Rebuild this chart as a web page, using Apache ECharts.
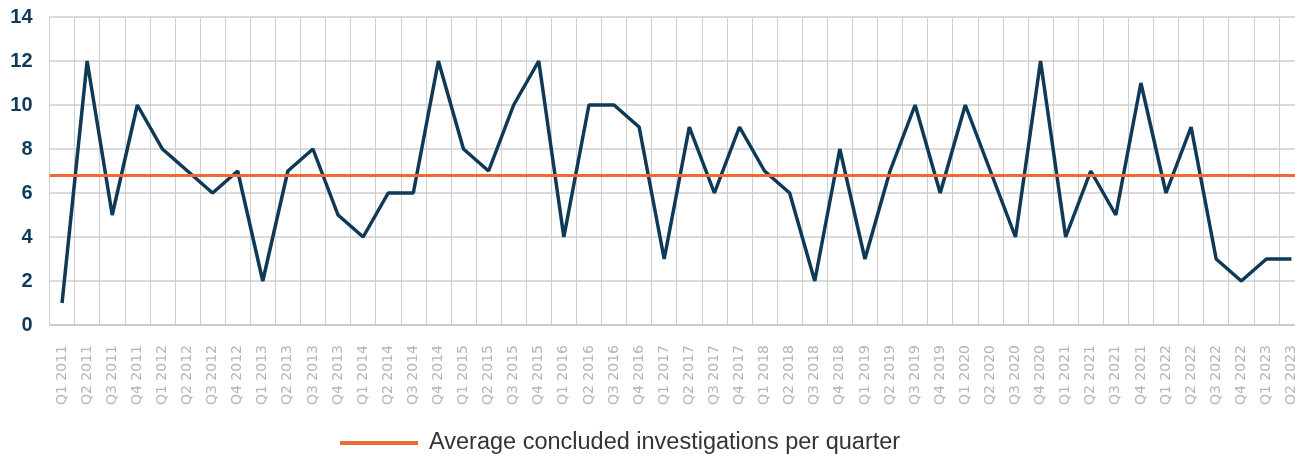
<!DOCTYPE html>
<html>
<head>
<meta charset="utf-8">
<script src="https://cdn.jsdelivr.net/npm/echarts@6/dist/echarts.min.js"></script>
<style>html,body{margin:0;padding:0;background:#fff;overflow:hidden;width:1295px;height:454px}#c{width:1304px;height:454px}</style>
</head>
<body>
<div id="c"></div>
<script>
const quarters = ["Q1 2011","Q2 2011","Q3 2011","Q4 2011","Q1 2012","Q2 2012","Q3 2012","Q4 2012","Q1 2013","Q2 2013","Q3 2013","Q4 2013","Q1 2014","Q2 2014","Q3 2014","Q4 2014","Q1 2015","Q2 2015","Q3 2015","Q4 2015","Q1 2016","Q2 2016","Q3 2016","Q4 2016","Q1 2017","Q2 2017","Q3 2017","Q4 2017","Q1 2018","Q2 2018","Q3 2018","Q4 2018","Q1 2019","Q2 2019","Q3 2019","Q4 2019","Q1 2020","Q2 2020","Q3 2020","Q4 2020","Q1 2021","Q2 2021","Q3 2021","Q4 2021","Q1 2022","Q2 2022","Q3 2022","Q4 2022","Q1 2023","Q2 2023"];
const concluded = [1,12,5,10,8,7,6,7,2,7,8,5,4,6,6,12,8,7,10,12,4,10,10,9,3,9,6,9,7,6,2,8,3,7,10,6,10,7,4,12,4,7,5,11,6,9,3,2,3,3];
const averageValue = 6.8;
const averageName = "Average concluded investigations per quarter";

const chart = echarts.init(document.getElementById('c'), null, {renderer: 'canvas'});
chart.setOption({
  animation: false,
  grid: {left: 49.5, top: 17, right: 0, bottom: 129, containLabel: false},
  legend: {
    data: [averageName],
    left: 335, top: 426,
    icon: 'rect', itemWidth: 78, itemHeight: 4, itemGap: 10,
    textStyle: {fontFamily: 'Liberation Sans', fontSize: 23.5, color: '#333', padding: [0,0,0,6]}
  },
  xAxis: {
    type: 'category', data: quarters, boundaryGap: true,
    axisLine: {lineStyle: {color: '#c8c8c8', width: 1.5}},
    axisTick: {show: false},
    splitLine: {show: true, lineStyle: {color: '#cfcfcf', width: 1}},
    axisLabel: {rotate: 90, interval: 0, color: '#b5b5b5', fontSize: 14, fontFamily: 'DejaVu Sans', margin: 20}
  },
  yAxis: {
    type: 'value', min: 0, max: 14, interval: 2,
    axisLine: {show: false}, axisTick: {show: false},
    splitLine: {lineStyle: {color: '#cfcfcf', width: 1.5}},
    axisLabel: {color: '#0f3a5c', fontSize: 20, fontWeight: 'bold', fontFamily: 'Liberation Sans', margin: 17}
  },
  series: [
    {
      type: 'line', name: 'Concluded investigations', data: concluded,
      symbol: 'none', lineStyle: {color: '#0e3a58', width: 3.5}, itemStyle: {color: '#0e3a58'}, z: 3
    },
    {
      type: 'line', name: averageName, data: [],
      symbol: 'none', lineStyle: {color: '#ee6a35', width: 3}, itemStyle: {color: '#ee6a35'},
      markLine: {
        silent: true, symbol: 'none', label: {show: false},
        lineStyle: {color: '#ee6a35', width: 3, type: 'solid'},
        data: [{yAxis: averageValue}]
      }, z: 2
    }
  ]
});
</script>
</body>
</html>
